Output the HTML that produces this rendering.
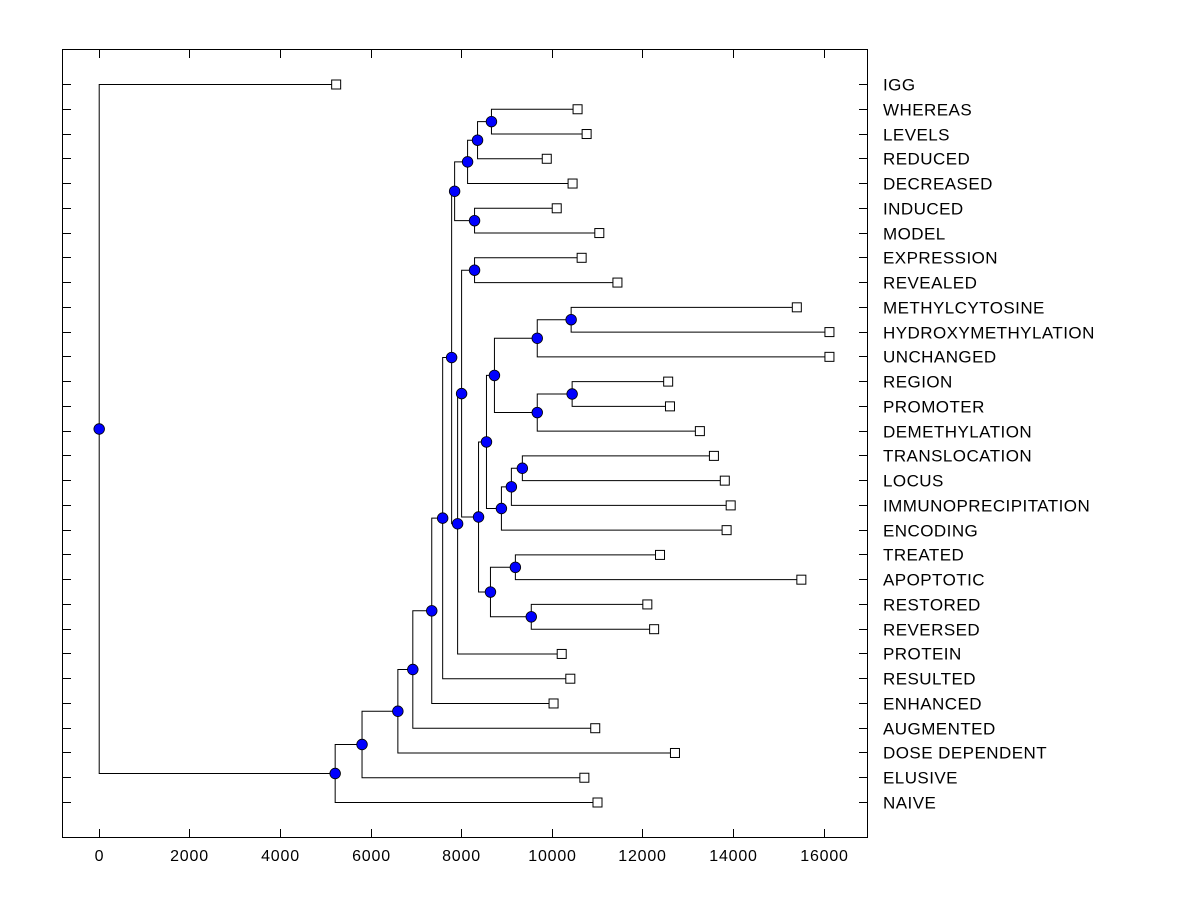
<!DOCTYPE html>
<html><head><meta charset="utf-8"><style>
body{margin:0;background:#fff;}
svg{display:block;font-family:"Liberation Sans",Arial,sans-serif;}
</style></head><body>
<svg id="chart" width="1200" height="900" xmlns="http://www.w3.org/2000/svg">
<rect x="0" y="0" width="1200" height="900" fill="#fff"/>
<rect x="62.5" y="49.5" width="805" height="788" fill="none" stroke="#000" stroke-width="1"/>
<g id="axes"></g>
<g id="tree"></g>
<g id="labels"></g>
</svg>
<script>
const leafLabels = ["IGG","WHEREAS","LEVELS","REDUCED","DECREASED","INDUCED","MODEL","EXPRESSION","REVEALED","METHYLCYTOSINE","HYDROXYMETHYLATION","UNCHANGED","REGION","PROMOTER","DEMETHYLATION","TRANSLOCATION","LOCUS","IMMUNOPRECIPITATION","ENCODING","TREATED","APOPTOTIC","RESTORED","REVERSED","PROTEIN","RESULTED","ENHANCED","AUGMENTED","DOSE DEPENDENT","ELUSIVE","NAIVE"];
const leafValues = [5231,10560,10760,9880,10450,10100,11040,10650,11440,15400,16120,16120,12560,12600,13260,13570,13810,13940,13850,12380,15500,12100,12250,10210,10400,10030,10950,12710,10710,11000];
// merges: [leftChild, rightChild] ; node ids start at 30
const mergeLeft  = [1,30,31,5,32,7,9,36,12,38,37,15,41,42,40,19,21,45,44,35,49,34,51,52,53,54,55,56,0];
const mergeRight = [2,3,4,6,33,8,10,11,13,14,39,16,17,18,43,20,22,46,47,48,23,50,24,25,26,27,28,29,57];
const mergeHeights = [8659,8352,8132,8286,7846,8286,10418,9670,10440,9670,8725,9341,9099,8879,8549,9187,9538,8637,8374,8000,7912,7780,7582,7341,6923,6593,5802,5209,0];
const xTicks = [0,2000,4000,6000,8000,10000,12000,14000,16000];

const NS="http://www.w3.org/2000/svg";
const xs = v => 98.7 + v*0.0453;
const ys = i => 84 + i*(718/29);
function mk(tag, attrs, parent){const e=document.createElementNS(NS,tag);for(const k in attrs)e.setAttribute(k,attrs[k]);parent.appendChild(e);return e;}
const axes=document.getElementById('axes'), tree=document.getElementById('tree'), labels=document.getElementById('labels');

xTicks.forEach(t=>{
  const x=Math.round(xs(t))+0.5;
  const a=mk('line',{x1:x,x2:x,y1:837,y2:829,stroke:'#000'},axes);
  
  
  const b=mk('line',{x1:x,x2:x,y1:50,y2:58,stroke:'#000'},axes);
  
  
  const tx=mk('text',{x:x,y:861,'text-anchor':'middle','font-size':'16','letter-spacing':'0.8'},axes);
  tx.textContent=t;
  
  
});

const pos={}; // id -> {x,y}
leafLabels.forEach((l,i)=>{
  pos[i]={x:xs(leafValues[i]),y:ys(i)};
  const y=Math.round(ys(i))+0.5;
  const a=mk('line',{x1:63,x2:71,y1:y,y2:y,stroke:'#000'},axes);
  
  
  const b=mk('line',{x1:859,x2:867,y1:y,y2:y,stroke:'#000'},axes);
  
  
  const t=mk('text',{x:883,y:y+6,'font-size':'17','letter-spacing':'0.45'},labels);
  t.textContent=l;
  
  
});

const nodes=[];
mergeHeights.forEach((h,k)=>{
  const id=30+k, a=pos[mergeLeft[k]], b=pos[mergeRight[k]];
  const x=xs(h), y=(a.y+b.y)/2;
  pos[id]={x,y};
  const p=mk('path',{d:`M${a.x},${a.y+0.5}H${x+0.5}V${b.y+0.5}H${b.x}`,fill:'none',stroke:'#000','stroke-width':1},tree);
  
  
  nodes.push([x,y]);
});
leafLabels.forEach((l,i)=>{
  const r=mk('rect',{x:pos[i].x-4,y:pos[i].y-4,width:9,height:9,fill:'#fff',stroke:'#000'},tree);
  
  
});
nodes.forEach(([x,y])=>{
  const c=mk('circle',{cx:x+0.5,cy:y+0.5,r:5.3,fill:'#0000ff',stroke:'#000','stroke-width':0.8},tree);
  
  
});
</script>
</body></html>
